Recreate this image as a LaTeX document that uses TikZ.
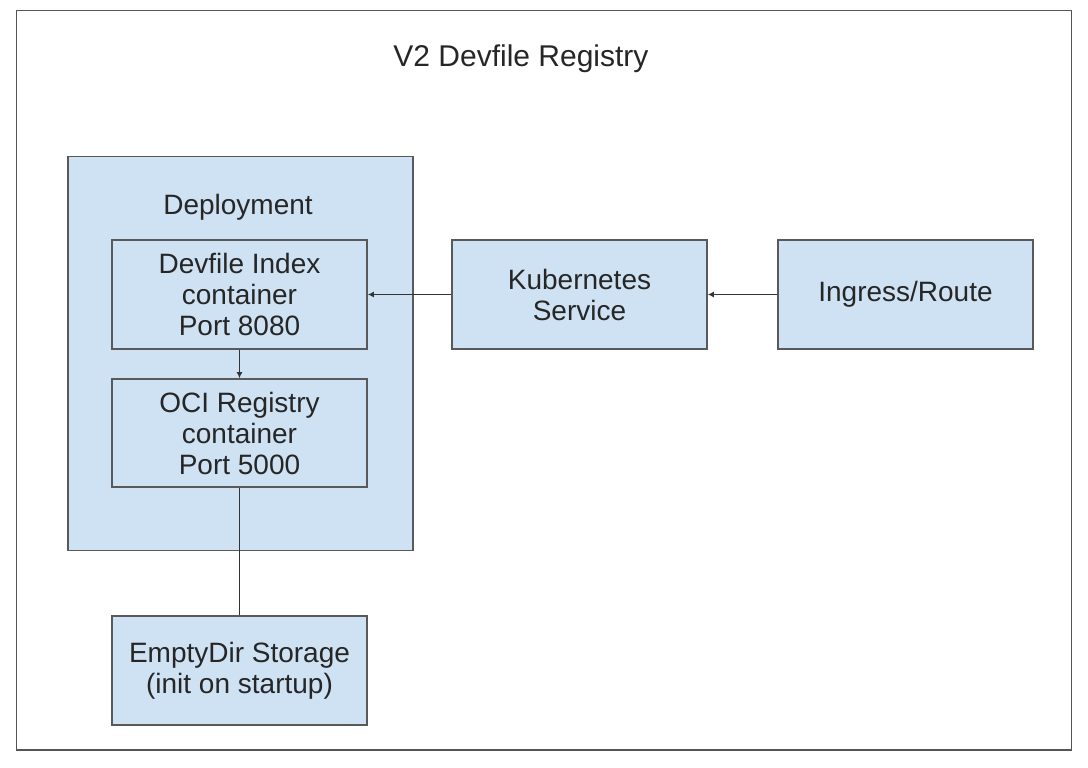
\documentclass[tikz,border=0pt]{standalone}
\usepackage{fontspec}
\setmainfont{Liberation Sans}
\usetikzlibrary{arrows.meta}
\definecolor{boxfill}{HTML}{CFE2F3}
\definecolor{boxline}{HTML}{595959}
\definecolor{frameline}{HTML}{555555}
\tikzset{
  boxnode/.style={draw=boxline, fill=boxfill, line width=1.6pt, align=center,
    minimum width=255pt, minimum height=109pt, inner sep=0pt,
    font=\fontsize{28}{31}\selectfont, text=black!85},
  textnode/.style={align=center, inner sep=0pt, font=\fontsize{28}{31}\selectfont, text=black!85},
  arr/.style={draw=black!80, line width=1.3pt, -{Latex[length=6pt,width=6pt]}},
  plainline/.style={draw=black!80, line width=1.3pt},
}
\begin{document}
\begin{tikzpicture}[x=1pt,y=-1pt]
\useasboundingbox (0,0) rectangle (1088,768);
\draw[draw=frameline, line width=1.8pt] (16.5,10.5) rectangle (1071.5,750);
\node[textnode, font=\fontsize{30}{32}\selectfont] (title) at (521,59) {V2 Devfile Registry};
\node[boxnode, minimum width=345pt, minimum height=394pt] (deploy) at (240.5,353.5) {};
\node[textnode] (deplabel) at (238,207) {Deployment};
\node[boxnode] (devfile) at (239.5,294.5) {Devfile Index\\container\\Port 8080};
\node[boxnode, minimum height=108pt] (oci) at (239.5,433) {OCI Registry\\container\\Port 5000};
\node[boxnode] (empty) at (239.5,670.5) {EmptyDir Storage\\(init on startup)};
\node[boxnode] (kube) at (579.5,294.5) {Kubernetes\\Service};
\node[boxnode] (ingress) at (905.5,294.5) {Ingress/Route};
\draw[arr] (kube.west) -- (devfile.east);
\draw[arr] (ingress.west) -- (kube.east);
\draw[arr] (devfile.south) -- (oci.north);
\draw[plainline] (oci.south) -- (empty.north);
\end{tikzpicture}
\end{document}
